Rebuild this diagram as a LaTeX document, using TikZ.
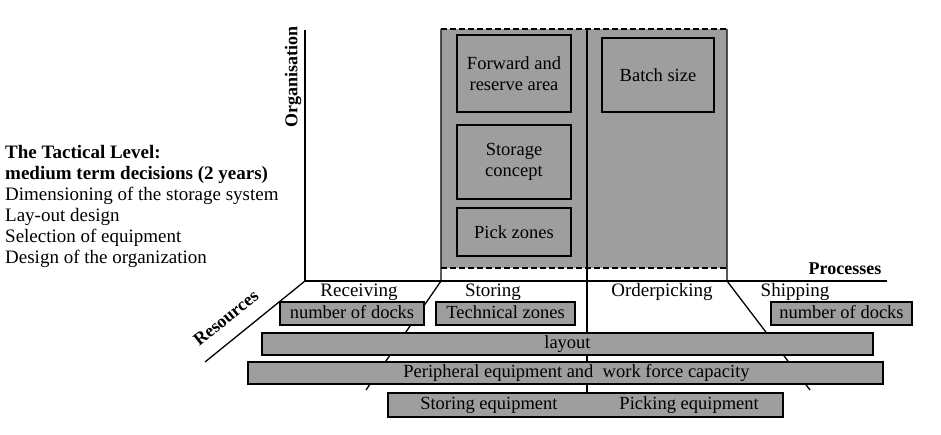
\documentclass[tikz,border=0pt]{standalone}
\usepackage{fontspec}
\setmainfont{Liberation Serif}

\tikzset{
    graybox/.style={draw, line width=1.1pt, fill=black!38, inner sep=0pt,
        font=\fontsize{18.5}{20}\selectfont, text height=12.5pt, text depth=3.5pt},
    orgbox/.style={draw, line width=1.1pt, fill=black!38, inner sep=0pt, align=center,
        font=\fontsize{18.5}{20.5}\selectfont},
    axis/.style={line width=1.3pt},
    lbl/.style={font=\fontsize{19}{21}\selectfont, inner sep=0pt},
    axlbl/.style={font=\fontsize{18}{20}\selectfont\bfseries, inner sep=0pt},
    edge/.style={line width=1.1pt, dash pattern=on 6pt off 3pt},
}

\begin{document}
\begin{tikzpicture}[x=1pt, y=-1pt]

    \useasboundingbox (0,0) rectangle (941,435);

    % the text on the left
    \node [lbl, anchor=north west, align=left] (tactical) at (5,145)
        {\textbf{The Tactical Level:}\\
         \textbf{medium term decisions (2 years)}\\
         Dimensioning of the storage system\\
         Lay-out design\\
         Selection of equipment\\
         Design of the organization};

    % shaded area above storing and orderpicking
    \fill [black!38] (441,29) rectangle (727,268);
    \draw [edge] (441,29) -- (727,29);
    \draw [edge] (441,268) -- (727,268);

    \node [orgbox, minimum width=114pt, minimum height=77pt] (forward) at (514,73.5)
        {Forward and\\reserve area};
    \node [orgbox, minimum width=114pt, minimum height=74pt] (concept) at (514,162)
        {Storage\\concept};
    \node [orgbox, minimum width=114pt, minimum height=48pt] (pickzones) at (514,232)
        {Pick zones};
    \node [orgbox, minimum width=112pt, minimum height=74pt] (batch) at (658,75)
        {Batch size};

    % axes
    \coordinate (origin) at (305,281);
    \coordinate (orgtop) at (305,30);
    \coordinate (procend) at (887,281);
    \coordinate (resend) at (205,362);

    \draw [axis] (orgtop) -- (origin) -- (procend);
    \draw [axis] (origin) -- (resend);

    \node [axlbl, rotate=90] (organisation) at (293,77) {Organisation};
    \node [axlbl] (processes) at (845,269) {Processes};
    \node [axlbl, rotate=39] (resources) at (226,318) {Resources};

    % process borders
    \coordinate (storetop) at (441,281);
    \coordinate (storebot) at (366,390);
    \coordinate (picktop) at (587,30);
    \coordinate (pickbot) at (587,393);
    \coordinate (shiptop) at (727,281);
    \coordinate (shipbot) at (810,390);

    \draw [axis] (441,29) -- (storetop) -- (storebot);
    \draw [line width=2.2pt] (picktop) -- (pickbot);
    \draw [axis] (727,29) -- (shiptop) -- (shipbot);

    \node [lbl, anchor=base] (receiving) at (359,297) {Receiving};
    \node [lbl, anchor=base] (storing) at (493,297) {Storing};
    \node [lbl, anchor=base] (orderpicking) at (662,297) {Orderpicking};
    \node [lbl, anchor=base] (shipping) at (795,297) {Shipping};

    % resources
    \node [graybox, minimum width=144pt, minimum height=23pt] (docksin) at (352,313.5)
        {number of docks};
    \node [graybox, minimum width=139pt, minimum height=23pt] (zones) at (505.5,313.5)
        {Technical zones};
    \node [graybox, minimum width=141pt, minimum height=23pt] (docksout) at (841.5,313.5)
        {number of docks};
    \node [graybox, minimum width=611pt, minimum height=22pt] (layout) at (567.5,344)
        {layout};
    \node [graybox, minimum width=635pt, minimum height=22pt] (peripheral) at (565.5,373)
        {\hspace{22pt}Peripheral equipment and\ \ work force capacity};
    \node [graybox, minimum width=395pt, minimum height=24pt] (equipment) at (585.5,405)
        {\hspace{8pt}Storing equipment\hspace{62pt}Picking equipment};

\end{tikzpicture}
\end{document}
